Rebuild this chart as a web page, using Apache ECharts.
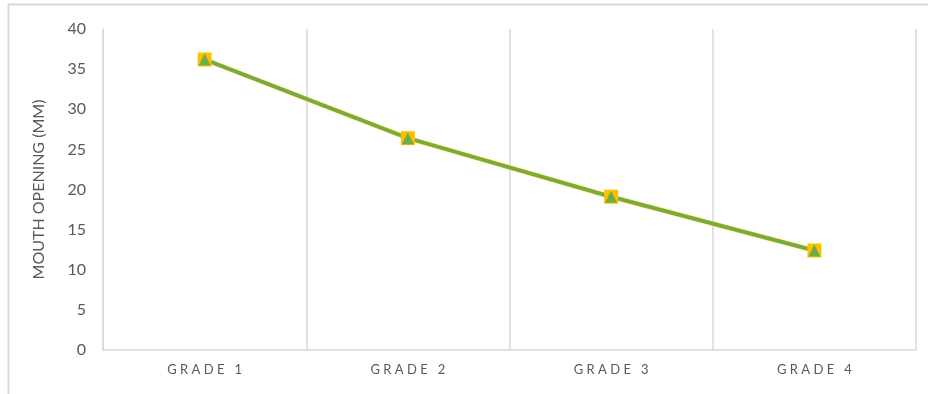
<!DOCTYPE html>
<html>
<head>
<meta charset="utf-8">
<script src="https://cdn.jsdelivr.net/npm/echarts@6/dist/echarts.min.js"></script>
<style>
  html, body { margin: 0; padding: 0; background: #fff; }
  #main { width: 928px; height: 394px; }
</style>
</head>
<body>
<div id="main"></div>
<script>
const categories = ['GRADE 1', 'GRADE 2', 'GRADE 3', 'GRADE 4']
const squareSeries = [36.2, 26.4, 19.1, 12.4]
const triangleSeries = [36.2, 26.4, 19.1, 12.4]
const yTicks = { min: 0, max: 40, interval: 5 }

const chartDom = document.getElementById('main')
const myChart = echarts.init(chartDom)
const gridColor = '#d9d9d9'
const textColor = '#595959'

const option = {
  animation: false,
  textStyle: { fontFamily: 'Lato' },
  graphic: [
    {
      type: 'line',
      shape: { x1: 8, y1: 4.5, x2: 928, y2: 4.5 },
      style: { stroke: gridColor, lineWidth: 2 }
    },
    {
      type: 'line',
      shape: { x1: 8.5, y1: 4, x2: 8.5, y2: 394 },
      style: { stroke: gridColor, lineWidth: 2 }
    }
  ],
  grid: { left: 103, right: 12, top: 29, bottom: 44 },
  xAxis: {
    type: 'category',
    data: categories,
    boundaryGap: true,
    axisLine: { lineStyle: { color: gridColor, width: 1.5 } },
    axisTick: { show: false },
    splitLine: { show: true, lineStyle: { color: gridColor, width: 1.5 } },
    axisLabel: {
      color: textColor,
      fontSize: 13,
      margin: 13,
      formatter: function (v) {
        return v.split('').join(' ')
      }
    }
  },
  yAxis: {
    type: 'value',
    min: yTicks.min,
    max: yTicks.max,
    interval: yTicks.interval,
    name: 'MOUTH OPENING (MM)',
    nameLocation: 'middle',
    nameGap: 56,
    nameTextStyle: { color: textColor, fontSize: 16 },
    axisLine: { show: true, lineStyle: { color: gridColor, width: 1.5 } },
    axisTick: { show: false },
    splitLine: { show: false },
    axisLabel: { color: textColor, fontSize: 16, margin: 17 }
  },
  series: [
    {
      name: 'square',
      type: 'line',
      data: squareSeries,
      symbol: 'rect',
      symbolSize: 14,
      lineStyle: { color: '#FFC000', width: 4.5 },
      itemStyle: { color: '#FFC000' }
    },
    {
      name: 'triangle',
      type: 'line',
      data: triangleSeries,
      symbol: 'triangle',
      symbolSize: 12,
      lineStyle: { color: '#70AD47', width: 3.5 },
      itemStyle: { color: '#70AD47' }
    }
  ]
}
myChart.setOption(option)
</script>
</body>
</html>
